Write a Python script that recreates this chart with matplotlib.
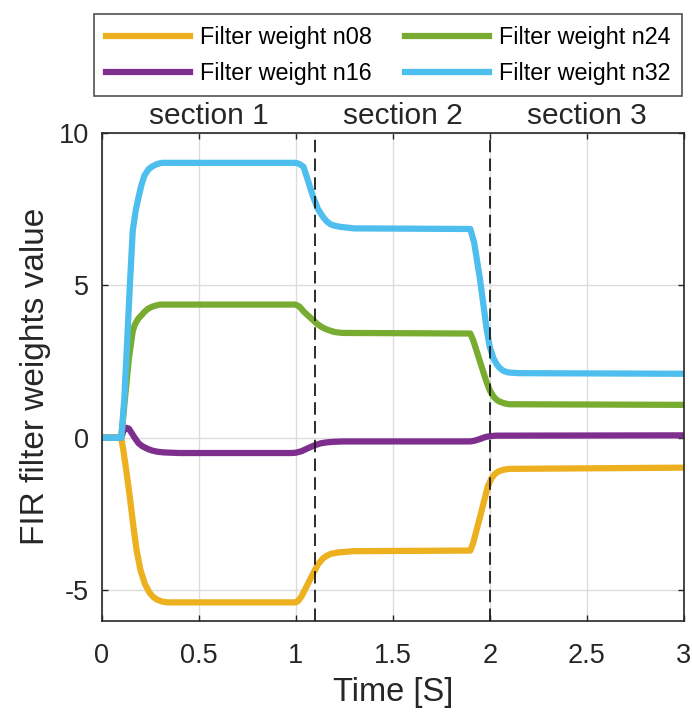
import numpy as np
import matplotlib
matplotlib.use('Agg')
from matplotlib import pyplot as plt
import matplotlib.transforms as mtransforms

plt.rcParams['font.family'] = ['Liberation Sans', 'DejaVu Sans']
plt.rcParams['lines.scale_dashes'] = False
plt.rcParams['axes.unicode_minus'] = False

# values
t08 = [0, 0.10, 0.11, 0.125, 0.146, 0.163, 0.18, 0.2, 0.223, 0.245, 0.265, 0.285, 0.31, 0.34,
       1.0, 1.013, 1.03, 1.05, 1.07, 1.09, 1.115, 1.14, 1.16, 1.18, 1.22, 1.3,
       1.9, 1.915, 1.95, 1.99, 2.01, 2.03, 2.05, 2.07, 2.1, 3.0]
w08 = [0, 0, -0.35, -1.0, -2.0, -2.9, -3.7, -4.35, -4.8, -5.07, -5.22, -5.31, -5.37, -5.4,
       -5.4, -5.35, -5.2, -4.95, -4.7, -4.45, -4.15, -3.96, -3.87, -3.81, -3.76, -3.72,
       -3.7, -3.45, -2.6, -1.6, -1.32, -1.17, -1.09, -1.05, -1.02, -0.98]

t16 = [0, 0.10, 0.112, 0.125, 0.14, 0.155, 0.17, 0.19, 0.21, 0.235, 0.26, 0.29, 0.32, 0.40,
       0.98, 1.0, 1.03, 1.06, 1.1, 1.13, 1.16, 1.2, 1.25,
       1.9, 1.92, 1.95, 1.98, 2.0, 2.03, 3.0]
w16 = [0, 0, 0.22, 0.33, 0.3, 0.15, 0.0, -0.18, -0.28, -0.36, -0.42, -0.46, -0.48, -0.5,
       -0.5, -0.49, -0.44, -0.35, -0.24, -0.18, -0.15, -0.13, -0.12,
       -0.12, -0.1, -0.04, 0.03, 0.05, 0.07, 0.08]

t24 = [0, 0.10, 0.108, 0.12, 0.14, 0.16, 0.17, 0.18, 0.19, 0.205, 0.22, 0.24, 0.26, 0.28, 0.30,
       1.0, 1.02, 1.04, 1.065, 1.09, 1.11, 1.13, 1.15, 1.175, 1.2, 1.24,
       1.9, 1.915, 1.95, 1.98, 2.0, 2.02, 2.035, 2.05, 2.075, 2.1, 3.0]
w24 = [0, 0, 0.5, 1.3, 2.6, 3.5, 3.7, 3.82, 3.92, 4.02, 4.13, 4.24, 4.3, 4.34, 4.37,
       4.37, 4.3, 4.15, 4.0, 3.86, 3.74, 3.65, 3.58, 3.52, 3.47, 3.44,
       3.42, 3.2, 2.5, 1.9, 1.56, 1.35, 1.25, 1.19, 1.13, 1.1, 1.08]

t32 = [0, 0.10, 0.105, 0.116, 0.13, 0.145, 0.16, 0.175, 0.19, 0.205, 0.22, 0.24, 0.26, 0.285, 0.31,
       1.0, 1.02, 1.04, 1.055, 1.07, 1.09, 1.115, 1.14, 1.16, 1.18, 1.205, 1.23, 1.3,
       1.9, 1.92, 1.95, 1.985, 2.0, 2.02, 2.035, 2.05, 2.065, 2.08, 2.1, 2.15, 3.0]
w32 = [0, 0, 0.3, 1.24, 3.0, 5.0, 6.8, 7.45, 7.9, 8.3, 8.6, 8.8, 8.9, 8.98, 9.02,
       9.02, 8.98, 8.89, 8.6, 8.3, 7.9, 7.5, 7.25, 7.1, 7.0, 6.95, 6.92, 6.87,
       6.85, 6.4, 5.2, 3.53, 2.98, 2.6, 2.42, 2.3, 2.22, 2.17, 2.14, 2.12, 2.1]

section_edges = [1.1, 2.0]
section_names = ['section 1', 'section 2', 'section 3']
section_centres = [0.55, 1.55, 2.5]

fig = plt.figure(figsize=(6.92, 7.13), dpi=100)
ax = fig.add_axes([0.147, 0.1295, 0.841, 0.684])

lw = 4.5
l08, = ax.plot(t08, w08, color='#EDB120', lw=lw, label='Filter weight n08', solid_joinstyle='round')
l16, = ax.plot(t16, w16, color='#7E2F8E', lw=lw, label='Filter weight n16', solid_joinstyle='round')
l24, = ax.plot(t24, w24, color='#77AC30', lw=lw, label='Filter weight n24', solid_joinstyle='round')
l32, = ax.plot(t32, w32, color='#4DBEEE', lw=lw, label='Filter weight n32', solid_joinstyle='round')

for xe in section_edges:
    ax.axvline(xe, color='#1a1a1a', lw=1.3, linestyle=(0, (9, 4.5)), zorder=5)

trans = mtransforms.blended_transform_factory(ax.transData, ax.transAxes)
for name, xc in zip(section_names, section_centres):
    ax.text(xc, 1.034, name, transform=trans, ha='center', va='center', fontsize=21.5, color='#262626')

ax.set_xlim(0, 3)
ax.set_ylim(-6, 10)
ax.set_xticks(np.arange(0, 3.01, 0.5))
ax.set_xticklabels(['0', '0.5', '1', '1.5', '2', '2.5', '3'])
ax.set_yticks([-5, 0, 5, 10])
ax.grid(True, color='#dcdcdc', lw=1.0)
ax.set_axisbelow(True)
ax.tick_params(direction='in', length=4, width=1, top=True, right=True, labelsize=19.5, colors='#262626')
ax.tick_params(axis='x', pad=16)
ax.tick_params(axis='y', pad=9)
for s in ax.spines.values():
    s.set_linewidth(1.2)
    s.set_color('#262626')

ax.set_xlabel('Time [S]', fontsize=23.5, color='#262626', labelpad=6)
ax.set_ylabel('FIR filter weights value', fontsize=24, color='#262626', labelpad=6)

leg = fig.legend(handles=[l08, l16, l24, l32], loc='upper left', ncol=2,
                 bbox_to_anchor=(0.136, 0.980),
                 fontsize=16.8, frameon=True, fancybox=False, edgecolor='#262626',
                 handlelength=3.6, handletextpad=0.45, borderaxespad=0, labelspacing=0.55,
                 borderpad=0.5, columnspacing=1.4)
leg.get_frame().set_linewidth(1.2)

fig.savefig('out.png', dpi=100)
